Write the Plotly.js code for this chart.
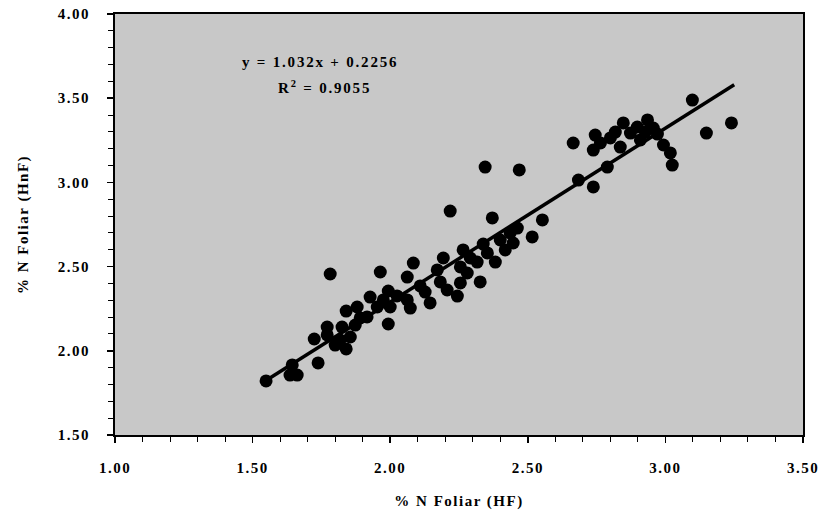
<!DOCTYPE html>
<html>
<head>
<meta charset="utf-8">
<script src="https://cdn.plot.ly/plotly-3.0.1.min.js"></script>
<style>
html,body{margin:0;padding:0;background:#fff;}
#chart{width:820px;height:517px;}
.xtick text,.ytick text{letter-spacing:1.5px;}
.g-xtitle text,.g-ytitle text{letter-spacing:1.5px;}
.annotation-text{letter-spacing:1.8px;}
</style>
</head>
<body>
<div id="chart"></div>
<script>
// % N Foliar (HF) measured values
const nFoliarHF = [
  1.549,1.636,1.644,1.662,1.738,1.724,1.771,1.771,1.818,1.855,
  1.840,1.873,1.840,1.880,1.916,1.927,1.953,1.993,1.993,1.782,
  1.964,2.000,1.825,2.084,2.062,2.109,2.062,2.073,2.145,2.171,
  2.193,2.207,2.244,2.255,2.255,2.280,2.265,2.316,2.327,2.338,
  2.353,2.400,2.436,2.462,2.447,2.218,2.345,2.469,2.371,2.553,
  2.516,2.665,2.684,2.738,2.745,2.738,2.789,2.800,2.836,2.847,
  2.873,2.898,2.909,2.935,2.956,2.971,2.993,3.018,3.025,3.098,
  3.149,3.240,
  1.800,1.891,1.975,2.025,2.127,2.182,2.291,2.382,2.418,2.764,
  2.927,2.818
];
// % N Foliar (HnF) measured values
const nFoliarHnF = [
  1.821,1.856,1.916,1.856,1.928,2.070,2.141,2.094,2.064,2.082,
  2.011,2.153,2.236,2.260,2.201,2.319,2.260,2.355,2.159,2.456,
  2.468,2.260,2.141,2.521,2.438,2.385,2.302,2.254,2.284,2.480,
  2.551,2.361,2.325,2.498,2.403,2.462,2.599,2.527,2.409,2.634,
  2.581,2.658,2.700,2.729,2.640,2.830,3.091,3.074,2.789,2.777,
  2.676,3.234,3.014,2.973,3.281,3.192,3.091,3.264,3.210,3.353,
  3.293,3.329,3.252,3.371,3.323,3.287,3.222,3.175,3.103,3.489,
  3.293,3.353,
  2.034,2.195,2.302,2.326,2.349,2.409,2.551,2.527,2.599,3.234,
  3.299,3.299
];
// Linear fit shown on the chart
const fitSlope = 1.032;
const fitIntercept = 0.2256;
const fitR2 = 0.9055;
const fitXRange = [1.55, 3.25];
const fitY = fitXRange.map(x => fitSlope * x + fitIntercept);

const xTickVals = [1.00, 1.50, 2.00, 2.50, 3.00, 3.50];
const xTickText = ["1.00", "1.50", "2.00", "2.50", "3.00", "3.50"];
const yTickVals = [1.50, 2.00, 2.50, 3.00, 3.50, 4.00];
const yTickText = ["1.50", "2.00", "2.50", "3.00", "3.50", "4.00"];

const serif = "Liberation Serif, Times New Roman, serif";

const traces = [
  {
    x: nFoliarHF, y: nFoliarHnF, type: "scatter", mode: "markers",
    marker: {color: "#000", size: 13, line: {width: 0}},
    hoverinfo: "x+y", showlegend: false
  },
  {
    x: fitXRange, y: fitY, type: "scatter", mode: "lines",
    line: {color: "#000", width: 3.5}, showlegend: false
  }
];

const axisCommon = {
  showgrid: false, zeroline: false,
  showline: true, linecolor: "#000", linewidth: 2, mirror: true,
  ticks: "outside", ticklen: 6, tickwidth: 1.5, tickcolor: "#000",
  minor: {dtick: 0.1, ticks: "outside", ticklen: 5, tickwidth: 1, tickcolor: "#000"},
  tickfont: {family: serif, size: 15, color: "#000", weight: "bold"},
  fixedrange: true
};

const layout = {
  width: 820, height: 517,
  margin: {l: 115, r: 17, t: 14, b: 82},
  paper_bgcolor: "#fff",
  plot_bgcolor: "#c8c8c8",
  font: {family: serif, color: "#000"},
  xaxis: Object.assign({}, axisCommon, {
    range: [1, 3.5], tickvals: xTickVals, ticktext: xTickText,
    ticklabelstandoff: 12,
    title: {text: "% N Foliar (HF)", standoff: 20,
            font: {family: serif, size: 15, color: "#000", weight: "bold"}}
  }),
  yaxis: Object.assign({}, axisCommon, {
    range: [1.5, 4], tickvals: yTickVals, ticktext: yTickText,
    ticklabelstandoff: 14,
    title: {text: "% N Foliar (HnF)", standoff: 26,
            font: {family: serif, size: 15, color: "#000", weight: "bold"}}
  }),
  annotations: [
    {x: 1.745, y: 3.715, xref: "x", yref: "y", showarrow: false,
     text: "y = " + fitSlope + "x + " + fitIntercept,
     font: {family: serif, size: 15, color: "#000", weight: "bold"}},
    {x: 1.76, y: 3.566, xref: "x", yref: "y", showarrow: false,
     text: "R<sup>2</sup> = " + fitR2,
     font: {family: serif, size: 15, color: "#000", weight: "bold"}}
  ]
};

Plotly.newPlot("chart", traces, layout, {displayModeBar: false, staticPlot: true});
</script>
</body>
</html>
